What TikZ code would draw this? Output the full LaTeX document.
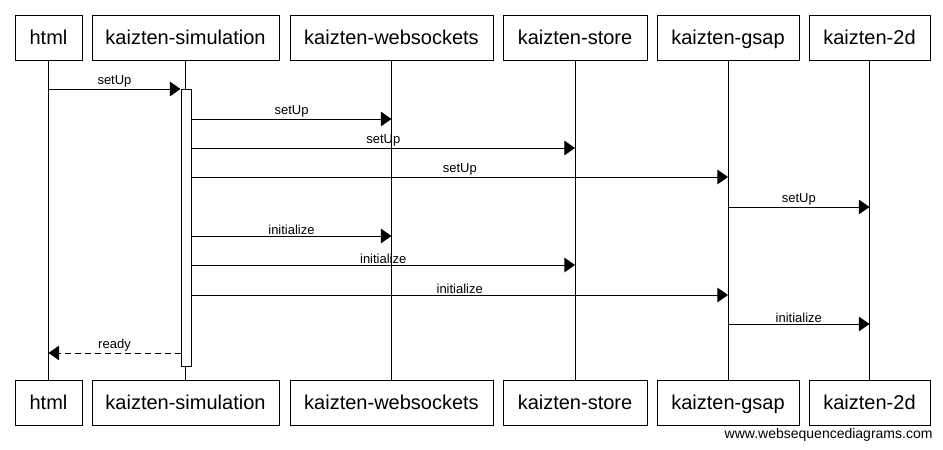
\documentclass[tikz,border=0pt]{standalone}
\usepackage{fontspec}
\setmainfont{Liberation Sans}
\usetikzlibrary{arrows.meta, positioning}

\begin{document}
\begin{tikzpicture}[
  x=0.75pt, y=-0.75pt,
  line width=0.75pt,
  >={Triangle[length=8pt, width=11pt]},
  actor/.style={draw, minimum height=33.75pt, inner sep=0pt,
                text height=12pt, text depth=0.8pt,
                font=\fontsize{15}{18}\selectfont},
  actbar/.style={draw, fill=white, minimum width=7.5pt, inner sep=0pt},
  msg/.style={->},
  reply/.style={->, dash pattern=on 4.5pt off 3pt},
  lbl/.style={above, inner sep=1pt, font=\fontsize{9.75}{11}\selectfont}
]
\useasboundingbox (0,0) rectangle (943,450);

%% ── Row 0 : Participants (top) ────────────────────────────────────────────
\node[actor, minimum width=50.25pt]  (html)  at (48.5, 37.5)  {html};
\node[actor, minimum width=140.25pt] (sim)   at (185.5, 37.5) {kaizten-simulation};
\node[actor, minimum width=152.25pt] (ws)    at (391.5, 37.5) {kaizten-websockets};
\node[actor, minimum width=108pt]    (store) at (575, 37.5)   {kaizten-store};
\node[actor, minimum width=106.5pt]  (gsap)  at (728, 37.5)   {kaizten-gsap};
\node[actor, minimum width=90.75pt]  (twod)  at (869.5, 37.5) {kaizten-2d};

%% ── Row 1 : Participants (bottom) ─────────────────────────────────────────
\node[actor, minimum width=50.25pt]  (htmlB)  at (48.5, 402.5)  {html};
\node[actor, minimum width=140.25pt] (simB)   at (185.5, 402.5) {kaizten-simulation};
\node[actor, minimum width=152.25pt] (wsB)    at (391.5, 402.5) {kaizten-websockets};
\node[actor, minimum width=108pt]    (storeB) at (575, 402.5)   {kaizten-store};
\node[actor, minimum width=106.5pt]  (gsapB)  at (728, 402.5)   {kaizten-gsap};
\node[actor, minimum width=90.75pt]  (twodB)  at (869.5, 402.5) {kaizten-2d};

%% lifelines
\foreach \p in {html, sim, ws, store, gsap, twod}
  \draw (\p.south) -- (\p B.north);

%% activation of kaizten-simulation
\node[actbar, minimum height=207.75pt, anchor=north] (act) at (186, 89) {};

%% ── Messages ──────────────────────────────────────────────────────────────
\draw[msg] (html |- 0,89) -- (act.west |- 0,89) node[lbl, midway] {setUp};

\foreach \y/\dst/\txt in {119/ws/setUp, 148/store/setUp, 177/gsap/setUp,
                         236/ws/initialize, 265/store/initialize, 295/gsap/initialize}
  \draw[msg] (act.east |- 0,\y) -- (\dst |- 0,\y) node[lbl, midway] {\txt};

\draw[msg] (gsap |- 0,207) -- (twod |- 0,207) node[lbl, midway] {setUp};
\draw[msg] (gsap |- 0,324) -- (twod |- 0,324) node[lbl, midway] {initialize};

\draw[reply] (act.west |- 0,353) -- (html |- 0,353) node[lbl, midway] {ready};

%% watermark
\node[anchor=east, inner sep=0pt, font=\fontsize{10.5}{12}\selectfont] (wsd)
      at (933, 435) {www.websequencediagrams.com};

\end{tikzpicture}
\end{document}
